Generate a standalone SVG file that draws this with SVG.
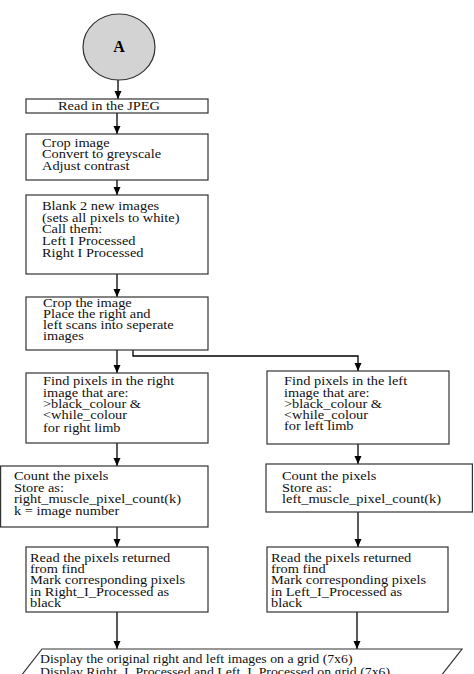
<svg xmlns="http://www.w3.org/2000/svg" width="474" height="674" viewBox="0 0 474 674">
<defs>
<marker id="ah" markerUnits="userSpaceOnUse" markerWidth="8" markerHeight="8" refX="8" refY="3.5" orient="auto">
<path d="M0,0 L8,3.5 L0,7 z" fill="#000"/>
</marker>
<style>
.box{fill:#fff;stroke:#333;stroke-width:1.2}
.t{font-family:"Liberation Serif","Times New Roman",serif;font-size:12px;fill:#111}
.c{fill:none;stroke:#000;stroke-width:1.3;marker-end:url(#ah)}
</style>
</defs>
<rect width="474" height="674" fill="#fff"/>
<g id="connectors">
<path class="c" d="M118,80 V99"/>
<path class="c" d="M117,113 V134"/>
<path class="c" d="M117,180 V195"/>
<path class="c" d="M117,274 V297"/>
<path class="c" d="M117,350 V373"/>
<path class="c" d="M133,350 V356 H358 V371"/>
<path class="c" d="M117,443 V466"/>
<path class="c" d="M358,444 V464"/>
<path class="c" d="M117,527 V547"/>
<path class="c" d="M358,512 V547"/>
<path class="c" d="M117,612 V649"/>
<path class="c" d="M357,612 V649"/>
</g>
<g id="start">
<ellipse cx="119" cy="47" rx="36" ry="33" fill="#d3d3d3" stroke="#333" stroke-width="1.2"/>
<text x="119" y="52" text-anchor="middle" font-family="'Liberation Serif','Times New Roman',serif" font-size="16" font-weight="bold" fill="#000">A</text>
</g>
<g id="read">
<rect class="box" x="26" y="99" width="182" height="14"/>
<g transform="translate(58,0) scale(1.2,1)"><text class="t" x="0" y="110">Read in the JPEG</text></g>
</g>
<g id="crop">
<rect class="box" x="26" y="134" width="182" height="46"/>
<g transform="translate(42,0) scale(1.2,1)"><text class="t"><tspan x="0" y="147">Crop image</tspan><tspan x="0" y="158.5">Convert to greyscale</tspan><tspan x="0" y="170">Adjust contrast</tspan></text></g>
</g>
<g id="blank">
<rect class="box" x="26" y="195" width="182" height="79"/>
<g transform="translate(42,0) scale(1.2,1)"><text class="t"><tspan x="0" y="210">Blank 2 new images</tspan><tspan x="0" y="222">(sets all pixels to white)</tspan><tspan x="0" y="233">Call them:</tspan><tspan x="0" y="245">Left  I  Processed</tspan><tspan x="0" y="257">Right  I  Processed</tspan></text></g>
</g>
<g id="split">
<rect class="box" x="26" y="297" width="182" height="53"/>
<g transform="translate(43,0) scale(1.2,1)"><text class="t"><tspan x="0" y="307">Crop the image</tspan><tspan x="0" y="318">Place the right and</tspan><tspan x="0" y="329">left scans into seperate</tspan><tspan x="0" y="340">images</tspan></text></g>
</g>
<g id="findRight">
<rect class="box" x="26" y="373" width="182" height="70"/>
<g transform="translate(43,0) scale(1.2,1)"><text class="t"><tspan x="0" y="385">Find pixels in the right</tspan><tspan x="0" y="397">image that are:</tspan><tspan x="0" y="408">&gt;black_colour &amp;</tspan><tspan x="0" y="419">&lt;while_colour</tspan><tspan x="0" y="432">for right limb</tspan></text></g>
</g>
<g id="findLeft">
<rect class="box" x="267" y="371" width="182" height="73"/>
<g transform="translate(284,0) scale(1.2,1)"><text class="t"><tspan x="0" y="385">Find pixels in the left</tspan><tspan x="0" y="397">image that are:</tspan><tspan x="0" y="408">&gt;black_colour &amp;</tspan><tspan x="0" y="419">&lt;while_colour</tspan><tspan x="0" y="430">for left limb</tspan></text></g>
</g>
<g id="countRight">
<rect class="box" x="0.6" y="466" width="207.4" height="61"/>
<g transform="translate(14,0) scale(1.2,1)"><text class="t"><tspan x="0" y="480">Count the pixels</tspan><tspan x="0" y="492">Store as:</tspan><tspan x="0" y="503">right_muscle_pixel_count(k)</tspan><tspan x="0" y="515">k = image number</tspan></text></g>
</g>
<g id="countLeft">
<rect class="box" x="266" y="464" width="206.4" height="48"/>
<g transform="translate(282,0) scale(1.2,1)"><text class="t"><tspan x="0" y="480">Count the pixels</tspan><tspan x="0" y="492">Store as:</tspan><tspan x="0" y="503">left_muscle_pixel_count(k)</tspan></text></g>
</g>
<g id="markRight">
<rect class="box" x="26" y="547" width="182" height="65"/>
<g transform="translate(30,0) scale(1.2,1)"><text class="t"><tspan x="0" y="562">Read the pixels returned</tspan><tspan x="0" y="573">from find</tspan><tspan x="0" y="584">Mark corresponding pixels</tspan><tspan x="0" y="596">in Right_I_Processed as</tspan><tspan x="0" y="607">black</tspan></text></g>
</g>
<g id="markLeft">
<rect class="box" x="267" y="547" width="181" height="65"/>
<g transform="translate(271,0) scale(1.2,1)"><text class="t"><tspan x="0" y="562">Read the pixels returned</tspan><tspan x="0" y="573">from find</tspan><tspan x="0" y="584">Mark corresponding pixels</tspan><tspan x="0" y="596">in Left_I_Processed as</tspan><tspan x="0" y="607">black</tspan></text></g>
</g>
<g id="display">
<path class="box" d="M42,649 H462 L430,690 H10 Z"/>
<g transform="translate(40,0) scale(1.15,1)"><text class="t"><tspan x="0" y="663">Display the original right and left images on a grid (7x6)</tspan><tspan x="0" y="676">Display Right_I_Processed and Left_I_Processed on grid (7x6)</tspan></text></g>
</g>
</svg>
